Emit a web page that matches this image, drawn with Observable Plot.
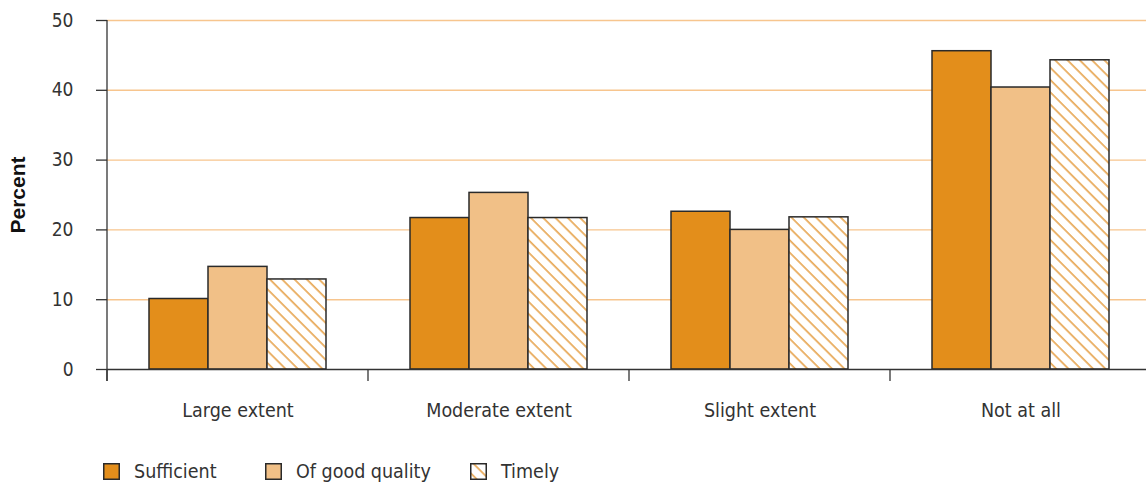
<!DOCTYPE html>
<html>
<head>
<meta charset="utf-8">
<script src="https://cdn.jsdelivr.net/npm/d3@7"></script>
<script src="https://cdn.jsdelivr.net/npm/@observablehq/plot@0.6"></script>
<style>
  html, body { margin: 0; padding: 0; background: #fff; }
  #wrap { position: relative; width: 1146px; height: 488px; font-family: "DejaVu Sans Condensed", sans-serif; color: #333; }
  #wrap svg.plot { display: block; }
  g[aria-label="y-axis label"] text { font-family: "Liberation Sans", sans-serif; font-weight: bold; font-size: 21px; fill: #111; }
  #legend { position: absolute; left: 0; top: 430px; width: 1146px; height: 58px; }
  .item { position: absolute; top: 32px; display: flex; align-items: center; font-size: 19.5px; line-height: 1; }
  .item svg { margin-right: 14px; }
</style>
</head>
<body>
<div id="wrap"><div id="chart"></div><div id="legend"></div></div>
<script>
const categories = ["Large extent", "Moderate extent", "Slight extent", "Not at all"];
const series = ["Sufficient", "Of good quality", "Timely"];
const sufficient = [10.1, 21.7, 22.6, 45.6];
const goodQuality = [14.7, 25.3, 20.0, 40.4];
const timely = [12.9, 21.7, 21.8, 44.3];
const yTicks = [0, 10, 20, 30, 40, 50];
const seriesColors = ["#E38E1B", "#F1C087", "url(#hatch)"];

const valuesBySeries = [sufficient, goodQuality, timely];
const data = [];
categories.forEach((c, i) => series.forEach((s, j) => data.push({category: c, series: s, value: valuesBySeries[j][i]})));

const ink = "#333";
const plot = Plot.plot({
  width: 1146,
  height: 430,
  marginLeft: 107,
  marginRight: -5,
  marginTop: 20,
  marginBottom: 61,
  style: {fontFamily: "'DejaVu Sans Condensed', sans-serif", color: ink, background: "transparent"},
  fx: {domain: categories, padding: 0, label: null},
  x: {domain: series, paddingInner: 0, paddingOuter: 0.7, axis: null},
  y: {domain: [0, 50], label: null},
  color: {domain: series, range: seriesColors},
  marks: [
    Plot.gridY(yTicks.filter(d => d > 0), {stroke: "#F7C58E", strokeOpacity: 1, strokeWidth: 1.4}),
    Plot.barY(data, {fx: "category", x: "series", y: "value", fill: "series", stroke: "#2a2a2a", strokeWidth: 1.5}),
    Plot.ruleY([0], {stroke: ink, strokeWidth: 1.3}),
    Plot.axisY({ticks: yTicks, tickSize: 11, tickPadding: 23, fontSize: 19, label: "Percent", labelAnchor: "center", labelArrow: "none", labelOffset: 97, stroke: ink, strokeWidth: 1.3}),
    Plot.axisFx({anchor: "bottom", tickSize: 0, tickPadding: 34, fontSize: 19.5, label: null})
  ]
});

// hatch pattern definition
const ns = "http://www.w3.org/2000/svg";
const hatchDef = id => `<pattern id="${id}" patternUnits="userSpaceOnUse" width="8.7" height="8.7" patternTransform="rotate(-45)">
    <rect width="8.7" height="8.7" fill="#fff"/>
    <line x1="2" y1="0" x2="2" y2="8.7" stroke="#E08A1A" stroke-width="1.25"/>
  </pattern>`;
function addHatch(svg, id) {
  const defs = document.createElementNS(ns, "defs");
  defs.innerHTML = hatchDef(id);
  svg.insertBefore(defs, svg.firstChild);
}
addHatch(plot, "hatch");

// left axis line and category separators, positioned with Plot's own scales
const fx = plot.scale("fx"), y = plot.scale("y");
const yTop = y.apply(50), yBase = y.apply(0);
const g = d3.select(plot).append("g").attr("stroke", ink).attr("stroke-width", 1.3);
g.append("line").attr("x1", fx.apply(categories[0])).attr("x2", fx.apply(categories[0])).attr("y1", yTop).attr("y2", yBase + 12);
categories.forEach(c => {
  const x = fx.apply(c);
  g.append("line").attr("x1", x).attr("x2", x).attr("y1", yBase).attr("y2", yBase + 12);
});

document.getElementById("chart").appendChild(plot);

// legend
const legend = document.getElementById("legend");
const legendLeft = [103, 265, 470];
series.forEach((s, j) => {
  const item = document.createElement("div");
  item.className = "item";
  item.style.left = legendLeft[j] + "px";
  item.innerHTML = `<svg width="17" height="17"><rect x="0.75" y="0.75" width="15.5" height="15.5" fill="${j === 2 ? "url(#lhatch)" : seriesColors[j]}" stroke="#2a2a2a" stroke-width="1.5"/></svg><span>${s}</span>`;
  legend.appendChild(item);
  if (j === 2) addHatch(item.querySelector("svg"), "lhatch");
});
</script>
</body>
</html>
